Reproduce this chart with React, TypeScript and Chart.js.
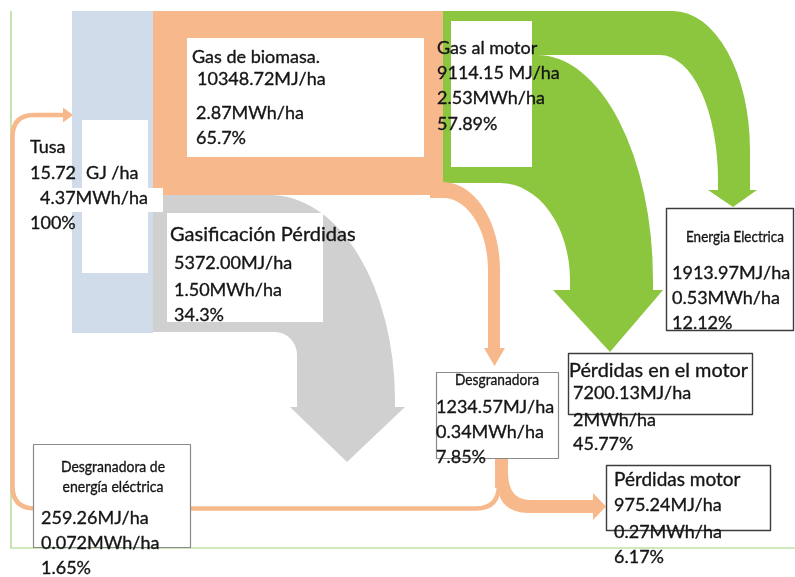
import React, { useEffect, useRef } from "react";
import { Chart, registerables } from "chart.js";

Chart.register(...registerables);

// ---- data ----
const nodeNames = [
  "Tusa",
  "Gas de biomasa.",
  "Gasificación Pérdidas",
  "Gas al motor",
  "Energia Electrica",
  "Pérdidas en el motor",
  "Desgranadora",
  "Pérdidas motor",
  "Desgranadora de energía eléctrica",
];
const energyLabels = [
  "15.72",
  "10348.72MJ/ha",
  "5372.00MJ/ha",
  "9114.15 MJ/ha",
  "1913.97MJ/ha",
  "7200.13MJ/ha",
  "1234.57MJ/ha",
  "975.24MJ/ha",
  "259.26MJ/ha",
];
const mwhLabels = [
  "4.37MWh/ha",
  "2.87MWh/ha",
  "1.50MWh/ha",
  "2.53MWh/ha",
  "0.53MWh/ha",
  "2MWh/ha",
  "0.34MWh/ha",
  "0.27MWh/ha",
  "0.072MWh/ha",
];
const pctLabels = ["100%", "65.7%", "34.3%", "57.89%", "12.12%", "45.77%", "7.85%", "6.17%", "1.65%"];
const flowSource = [0, 0, 1, 1, 3, 3, 6, 6, 8];
const flowTarget = [1, 2, 3, 6, 4, 5, 7, 8, 0];
const flowValue = [10348.72, 5372.0, 9114.15, 1234.57, 1913.97, 7200.13, 975.24, 259.26, 259.26];

// ---- styles ----
const C_BLUE = "#d0dcea";
const C_ORANGE = "#f7b98c";
const C_GREEN = "#8cc63f";
const C_GRAY = "#d0d0d0";
const C_AXIS = "#9fd37a";
const C_TEXT = "#161616";
const FONT = "Lato, 'Open Sans', sans-serif";

const diagramPlugin = {
  id: "sankeyDiagram",
  afterDatasetsDraw(chart: any) {
    const ctx: CanvasRenderingContext2D = chart.ctx;
    const xs = chart.scales.x;
    const ys = chart.scales.y;
    const X = (v: number) => xs.getPixelForValue(v);
    const Y = (v: number) => ys.getPixelForValue(v);
    const RX = (r: number) => Math.abs(X(r) - X(0));
    const RY = (r: number) => Math.abs(Y(r) - Y(0));
    const P = Math.PI;

    const M = (x: number, y: number) => ctx.moveTo(X(x), Y(y));
    const Ln = (x: number, y: number) => ctx.lineTo(X(x), Y(y));
    const E = (cx: number, cy: number, rx: number, ry: number, a0: number, a1: number, ccw = false) =>
      ctx.ellipse(X(cx), Y(cy), RX(rx), RY(ry), 0, a0, a1, ccw);
    const Q = (cx: number, cy: number, x: number, y: number) => ctx.quadraticCurveTo(X(cx), Y(cy), X(x), Y(y));
    const rect = (x0: number, y0: number, x1: number, y1: number, fill: string | null, stroke?: string, lw = 1) => {
      if (fill) {
        ctx.fillStyle = fill;
        ctx.fillRect(X(x0), Y(y0), X(x1) - X(x0), Y(y1) - Y(y0));
      }
      if (stroke) {
        ctx.strokeStyle = stroke;
        ctx.lineWidth = lw;
        ctx.strokeRect(X(x0) + 0.5, Y(y0) + 0.5, X(x1) - X(x0), Y(y1) - Y(y0));
      }
    };
    const txt = (s: string, x: number, y: number, size = 18, align: CanvasTextAlign = "left", maxW?: number) => {
      ctx.font = `${size}px ${FONT}`;
      ctx.fillStyle = C_TEXT;
      ctx.strokeStyle = C_TEXT;
      ctx.lineWidth = 0.35;
      ctx.textAlign = align;
      ctx.textBaseline = "middle";
      if (maxW) {
        ctx.fillText(s, X(x), Y(y), maxW);
        ctx.strokeText(s, X(x), Y(y), maxW);
      } else {
        ctx.fillText(s, X(x), Y(y));
        ctx.strokeText(s, X(x), Y(y));
      }
    };

    ctx.save();

    // axis-like green lines
    ctx.strokeStyle = C_AXIS;
    ctx.lineWidth = 1.2;
    ctx.beginPath();
    M(11, 11);
    Ln(11, 548);
    Ln(795, 548);
    ctx.stroke();

    // Tusa column (blue)
    rect(72, 11, 153, 333, C_BLUE);

    // Gasificación pérdidas (gray)
    ctx.fillStyle = C_GRAY;
    ctx.beginPath();
    M(153, 195);
    Ln(270, 195);
    E(270, 400, 125, 205, -P / 2, 0);
    Ln(395, 407);
    Ln(405, 407);
    Ln(347, 462);
    Ln(290, 407);
    Ln(297, 407);
    Ln(297, 355);
    E(275, 355, 22, 23, 0, -P / 2, true);
    Ln(153, 332);
    ctx.closePath();
    ctx.fill();

    // Gas de biomasa (orange block)
    rect(153, 11, 443, 195, C_ORANGE);

    // Gas al motor (green)
    ctx.fillStyle = C_GREEN;
    ctx.beginPath();
    M(443, 11);
    Ln(673, 11);
    E(673, 150, 77, 139, -P / 2, 0);
    Ln(750, 190);
    Ln(757, 190);
    Ln(733, 207);
    Ln(708, 190);
    Ln(718, 190);
    Ln(718, 180);
    E(660, 180, 58, 125, 0, -P / 2, true);
    Ln(537, 55);
    E(537, 280, 116, 225, -P / 2, 0);
    Ln(653, 290);
    Ln(663, 290);
    Ln(610, 352);
    Ln(553, 290);
    Ln(570, 290);
    Ln(570, 280);
    E(500, 280, 70, 97, 0, -P / 2, true);
    Ln(443, 183);
    ctx.closePath();
    ctx.fill();

    // orange flow to Desgranadora
    ctx.fillStyle = C_ORANGE;
    ctx.beginPath();
    M(430, 182);
    Ln(443, 182);
    E(443, 270, 57, 88, -P / 2, 0);
    Ln(500, 348);
    Ln(505, 348);
    Ln(494.5, 366);
    Ln(484, 348);
    Ln(488, 348);
    Ln(488, 270);
    E(443, 270, 45, 72, 0, -P / 2, true);
    Ln(430, 198);
    ctx.closePath();
    ctx.fill();

    // white label panels
    rect(82, 120, 148, 273, "#ffffff");
    rect(37, 188, 163, 212, "#ffffff");
    rect(187, 38, 424, 157, "#ffffff");
    rect(451, 21, 532, 167, "#ffffff");
    rect(167, 213, 323, 322, "#ffffff");

    // bottom orange return line (to Tusa)
    ctx.strokeStyle = C_ORANGE;
    ctx.lineWidth = 4.5;
    ctx.lineJoin = "round";
    ctx.beginPath();
    M(499, 462);
    Ln(499, 484);
    Q(499, 508.5, 476, 508.5);
    Ln(35, 508.5);
    Q(12.5, 508.5, 12.5, 486);
    Ln(12.5, 137);
    Q(12.5, 115, 34, 115);
    Ln(65, 115);
    ctx.stroke();
    ctx.fillStyle = C_ORANGE;
    ctx.beginPath();
    M(63, 107.5);
    Ln(73, 115);
    Ln(63, 122.5);
    ctx.closePath();
    ctx.fill();

    // Desgranadora stem + branch to Pérdidas motor
    ctx.beginPath();
    M(495, 458);
    Ln(508, 458);
    Ln(508, 474);
    Q(509, 500, 530, 500);
    Ln(593, 500);
    Ln(593, 493);
    Ln(606, 506.5);
    Ln(593, 520);
    Ln(593, 513);
    Ln(528, 513);
    Q(500, 512, 498, 488);
    Ln(495, 488);
    ctx.closePath();
    ctx.fill();

    // bordered boxes
    rect(33, 444, 190, 547, "#ffffff", "#8a8a8a", 1.2);
    rect(436, 372, 558, 458, "#ffffff", "#8a8a8a", 1.2);
    rect(568, 353, 752, 414, "#ffffff", "#3c3c3c", 1.4);
    rect(606, 465, 770, 530, "#ffffff", "#3c3c3c", 1.4);
    rect(666, 208, 793, 330, "#ffffff", "#3c3c3c", 1.4);

    // ---- texts ----
    // Tusa
    txt(nodeNames[0], 30, 147);
    txt(energyLabels[0], 30, 173);
    txt("GJ /ha", 86, 173);
    txt(mwhLabels[0], 40, 198);
    txt(pctLabels[0], 30, 223);

    // Gas de biomasa
    txt(nodeNames[1], 192, 57);
    txt(energyLabels[1], 197, 79);
    txt(mwhLabels[1], 196, 113);
    txt(pctLabels[1], 196, 138);

    // Gasificación Pérdidas
    txt(nodeNames[2], 170, 235, 20, "left", 186);
    txt(energyLabels[2], 174, 263);
    txt(mwhLabels[2], 174, 290);
    txt(pctLabels[2], 174, 315);

    // Gas al motor
    txt(nodeNames[3], 437, 48);
    txt(energyLabels[3], 437, 73);
    txt(mwhLabels[3], 437, 98);
    txt(pctLabels[3], 437, 124);

    // Energia Electrica
    txt(nodeNames[4], 735, 237, 16, "center", 98);
    txt(energyLabels[4], 672, 273);
    txt(mwhLabels[4], 672, 298);
    txt(pctLabels[4], 672, 323);

    // Pérdidas en el motor
    txt(nodeNames[5], 569, 371, 20, "left", 179);
    txt(energyLabels[5], 573, 393);
    txt(mwhLabels[5], 573, 420);
    txt(pctLabels[5], 573, 444);

    // Desgranadora
    txt(nodeNames[6], 497, 380, 16, "center", 84);
    txt(energyLabels[6], 436, 407);
    txt(mwhLabels[6], 436, 432);
    txt(pctLabels[6], 436, 457);

    // Pérdidas motor
    txt(nodeNames[7], 614, 480, 19);
    txt(energyLabels[7], 614, 505);
    txt(mwhLabels[7], 614, 532);
    txt(pctLabels[7], 614, 557);

    // Desgranadora de energía eléctrica
    txt("Desgranadora de", 113, 467, 16, "center", 104);
    txt("energía eléctrica", 113, 487, 16, "center", 101);
    txt(energyLabels[8], 41, 518);
    txt(mwhLabels[8], 41, 543);
    txt(pctLabels[8], 41, 568);

    ctx.restore();
  },
};

export default function App() {
  const ref = useRef<HTMLCanvasElement | null>(null);

  useEffect(() => {
    document.body.style.margin = "0";
    const canvas = ref.current;
    if (!canvas) return;
    const chart = new Chart(canvas, {
      type: "scatter",
      data: {
        datasets: [
          {
            label: "flows",
            data: flowValue.map((v, i) => ({ x: flowSource[i], y: flowTarget[i], v })),
            pointRadius: 0,
            pointHoverRadius: 0,
          } as any,
        ],
      },
      options: {
        animation: false,
        responsive: false,
        maintainAspectRatio: false,
        devicePixelRatio: 1,
        layout: { padding: 0 },
        events: [],
        plugins: { legend: { display: false }, tooltip: { enabled: false } },
        scales: {
          x: { type: "linear", min: 0, max: 795, display: false },
          y: { type: "linear", min: 0, max: 577, reverse: true, display: false },
        },
      },
      plugins: [diagramPlugin],
    });
    return () => chart.destroy();
  }, []);

  return (
    <div style={{ width: 795, height: 577, background: "#ffffff" }}>
      <canvas ref={ref} width={795} height={577} style={{ display: "block" }} />
    </div>
  );
}
